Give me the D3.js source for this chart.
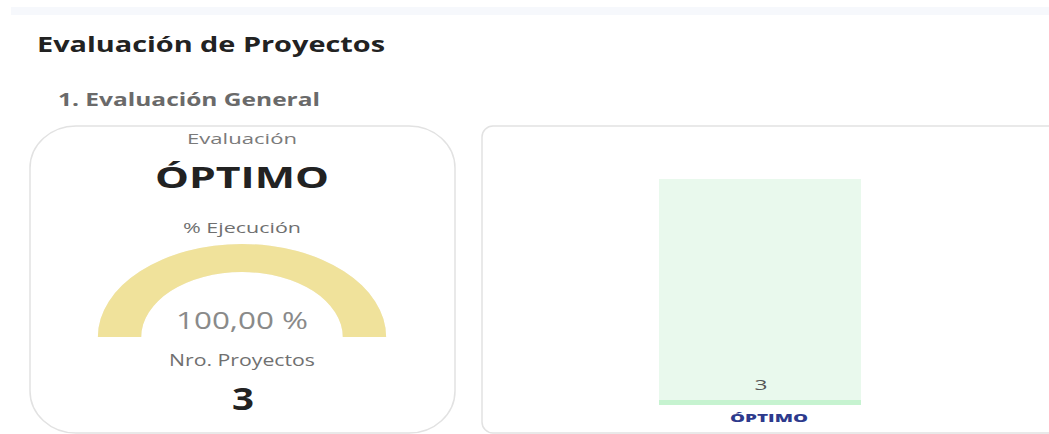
<!DOCTYPE html>
<html>
<head>
<meta charset="utf-8">
<script src="https://cdn.jsdelivr.net/npm/d3@7"></script>
<style>
  body { margin: 0; background: #fff; }
  svg text { font-family: "Open Sans", sans-serif; }
</style>
</head>
<body>
<script>
(function(){

    // data
    var evaluacion = "ÓPTIMO";
    var ejecucionPct = 100;
    var nroProyectos = 3;
    var categories = ["ÓPTIMO"];
    var values = [3];

    var width = 1049,
        height = 434;

    var svg = d3.select("body")
        .append("svg")
        .attr("width", width)
        .attr("height", height);

    // top strip
    svg.append("rect")
        .attr("x", 11).attr("y", 7)
        .attr("width", width).attr("height", 8)
        .attr("fill", "#f6f8fc");

    // stretched text helper (the screenshot is wide)
    function addText(x, y, txt, size, weight, color, len, anchor) {
        return svg.append("text")
            .attr("x", x)
            .attr("y", y)
            .attr("text-anchor", anchor || "middle")
            .attr("font-size", size)
            .attr("font-weight", weight)
            .attr("fill", color)
            .attr("textLength", len)
            .attr("lengthAdjust", "spacingAndGlyphs")
            .text(txt);
    }

    addText(37, 52, "Evaluación de Proyectos", 22, 700, "#222", 348, "start");
    addText(58, 106, "1. Evaluación General", 17, 700, "#6a6a6a", 262, "start");

    // left card
    svg.append("rect")
        .attr("x", 30).attr("y", 126)
        .attr("width", 425).attr("height", 307)
        .attr("rx", 46).attr("ry", 42)
        .attr("fill", "#fff")
        .attr("stroke", "#e2e2e2")
        .attr("stroke-width", 1.5);

    var cx = 242;
    addText(cx, 144, "Evaluación", 15, 400, "#7a7a7a", 110);
    addText(cx, 188, evaluacion, 28, 700, "#222", 174);
    addText(cx, 233, "% Ejecución", 15, 400, "#6f6f6f", 118);

    // gauge
    var angle = d3.scaleLinear()
        .domain([0, 100])
        .range([-Math.PI / 2, Math.PI / 2]);

    var arc = d3.arc()
        .innerRadius(65)
        .outerRadius(93);

    var gauge = svg.append("g")
        .attr("transform", "translate(" + cx + ",337) scale(1.55,1)");

    gauge.append("path")
        .attr("d", arc({startAngle: angle(0), endAngle: angle(100)}))
        .attr("fill", "#f4f4f4");

    gauge.append("path")
        .attr("d", arc({startAngle: angle(0), endAngle: angle(ejecucionPct)}))
        .attr("fill", "#f0e29b");

    addText(cx, 329, d3.format(".2f")(ejecucionPct).replace(".", ",") + " %", 24, 400, "#8a8a8a", 132);
    addText(cx, 366, "Nro. Proyectos", 17, 400, "#707070", 146);
    addText(cx + 1, 410, String(nroProyectos), 31, 700, "#222", 22);

    // right card
    svg.append("rect")
        .attr("x", 482).attr("y", 126)
        .attr("width", 620).attr("height", 307)
        .attr("rx", 11)
        .attr("fill", "#fff")
        .attr("stroke", "#e2e2e2")
        .attr("stroke-width", 1.5);

    // bar chart
    var x = d3.scaleBand()
        .domain(categories)
        .range([558, 962])
        .paddingInner(0)
        .paddingOuter(0.5);

    var y = d3.scaleLinear()
        .domain([0, d3.max(values)])
        .range([405, 179]);

    var bars = svg.selectAll(".bar")
        .data(categories)
        .enter()
        .append("g")
        .attr("class", "bar");

    bars.append("rect")
        .attr("x", function(d){ return x(d); })
        .attr("y", function(d, i){ return y(values[i]); })
        .attr("width", x.bandwidth())
        .attr("height", function(d, i){ return y(0) - y(values[i]); })
        .attr("fill", "#e9f9ed");

    bars.append("rect")
        .attr("x", function(d){ return x(d); })
        .attr("y", y(0) - 5)
        .attr("width", x.bandwidth())
        .attr("height", 5)
        .attr("fill", "#c6f3d0");

    bars.each(function(d, i){
        var mid = x(d) + x.bandwidth() / 2;
        addText(mid + 1, 390, String(values[i]), 15, 400, "#555", 13);
        addText(mid + 9, 422, d, 11, 800, "#2d3a8c", 78);
    });

})();
</script>
</body>
</html>
